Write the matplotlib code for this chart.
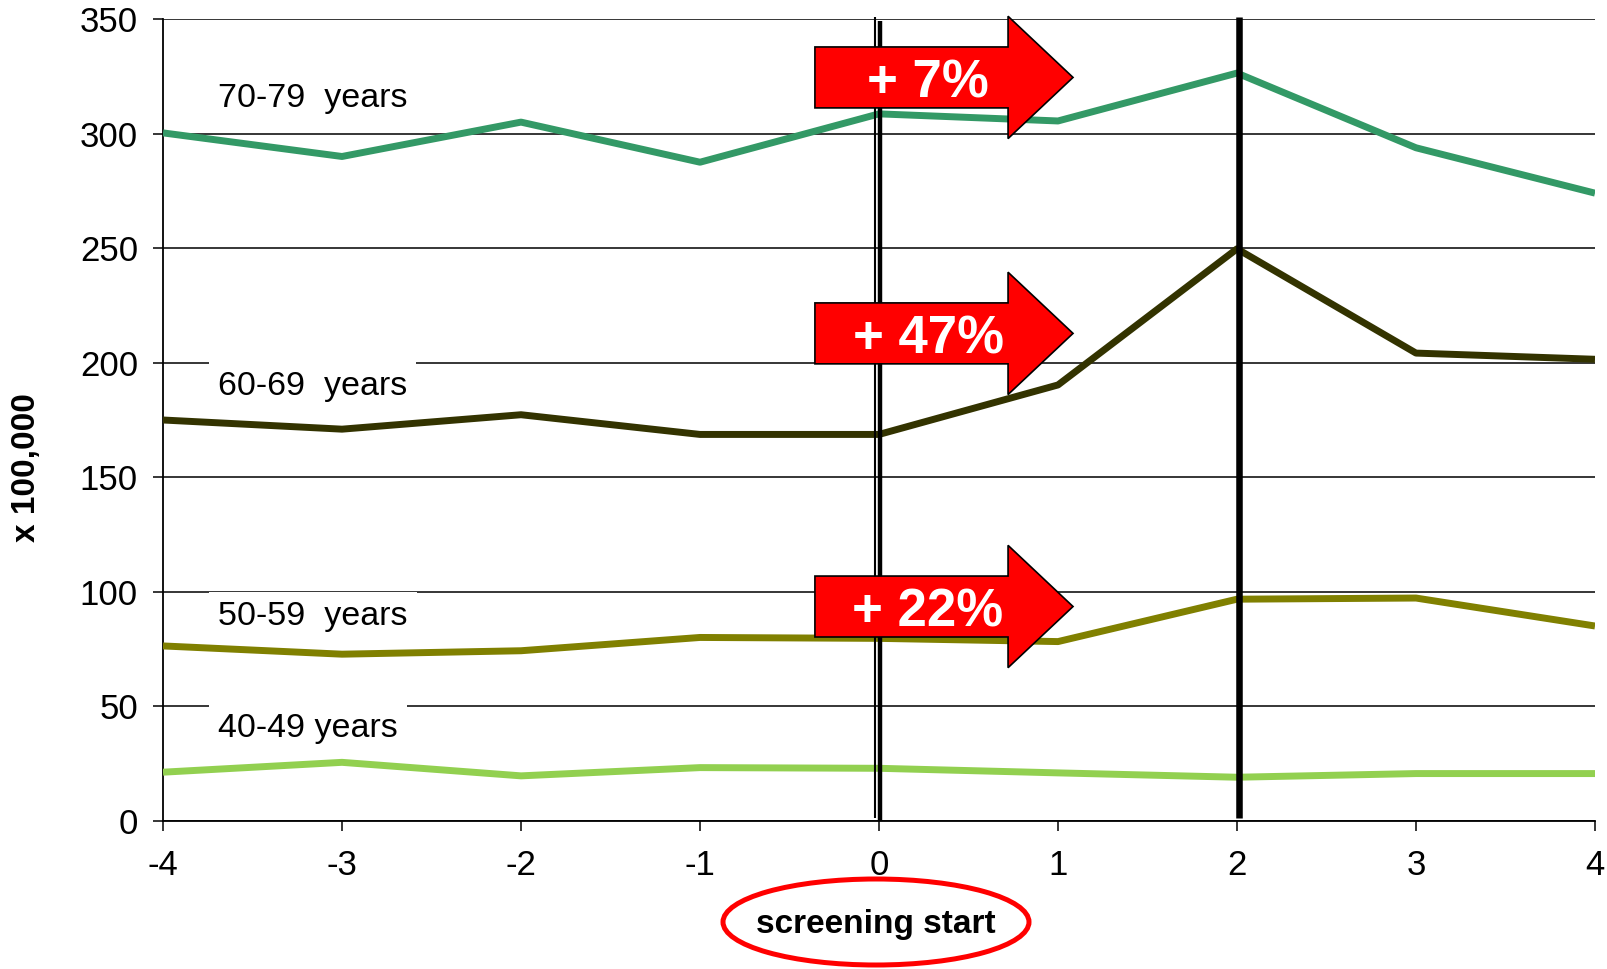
import matplotlib
matplotlib.use('Agg')
import matplotlib.pyplot as plt
from matplotlib.patches import Polygon, Ellipse

plt.rcParams['font.family'] = ['Liberation Sans', 'DejaVu Sans']
plt.rcParams['axes.unicode_minus'] = False

# ---- data ----
years = [-4, -3, -2, -1, 0, 1, 2, 3, 4]
x_tick_labels = ['-4', '-3', '-2', '-1', '0', '1', '2', '3', '4']
y_ticks = [0, 50, 100, 150, 200, 250, 300, 350]

g70 = [300.3, 290.0, 305.0, 287.5, 308.6, 305.5, 326.4, 293.8, 274.0]
g60 = [175.0, 171.0, 177.3, 168.7, 168.7, 190.3, 249.7, 204.2, 201.5]
g50 = [76.4, 72.8, 74.3, 80.1, 79.7, 78.3, 96.8, 97.3, 85.1]
g40 = [21.3, 25.6, 19.7, 23.3, 23.0, 21.0, 19.1, 20.7, 20.7]

series = [g70, g60, g50, g40]
series_labels = ['70-79  years', '60-69  years', '50-59  years', '40-49 years']
series_colors = ['#339966', '#333300', '#808000', '#92D050']
label_y = [311.6, 185.9, 85.6, 36.7]

arrow_labels = ['+ 7%', '+ 47%', '+ 22%']
arrow_y = [324.5, 212.8, 93.6]

# ---- figure ----
W, H = 1608, 969
fig = plt.figure(figsize=(W / 100, H / 100), dpi=100)
ax = fig.add_axes([163 / W, 1 - 821 / H, (1595 - 163) / W, (821 - 19) / H])
ax.set_xlim(-4, 4)
ax.set_ylim(0, 350)
ax.set_xticks(years)
ax.set_xticklabels(x_tick_labels)
ax.set_yticks(y_ticks)
ax.grid(axis='y', color='black', lw=1.1, zorder=1)
ax.grid(axis='x', visible=False)
ax.set_axisbelow(True)
for s in ['top', 'right']:
    ax.spines[s].set_visible(False)
for s in ['left', 'bottom']:
    ax.spines[s].set_linewidth(1.3)
    ax.spines[s].set_color('black')
ax.tick_params(axis='both', direction='out', length=7, width=1.1, labelsize=25, colors='black')
ax.tick_params(axis='x', pad=13)
ax.tick_params(axis='y', pad=11)

# vertical markers
ax.plot([-0.022, -0.022], [1.3, 351], color='black', lw=1.5, clip_on=False, zorder=5, solid_capstyle='butt')
ax.plot([0.006, 0.006], [0, 349.2], color='black', lw=3.2, clip_on=False, zorder=5, solid_capstyle='butt')
ax.plot([2.01, 2.01], [1.3, 351], color='black', lw=4.7, clip_on=False, zorder=5, solid_capstyle='butt')

# series
for vals, col in zip(series, series_colors):
    ax.plot(years, vals, color=col, lw=5.0, zorder=4, solid_capstyle='butt')

# series labels (white boxes break the gridlines, as in the reference)
for lab, yy in zip(series_labels, label_y):
    ax.text(-3.693, yy, lab, fontsize=24.5, color='black', ha='left', va='baseline', zorder=3,
            bbox=dict(facecolor='white', edgecolor='none', pad=6.5))

# arrows
xl, xb, xt = -0.358, 0.721, 1.084
bh, hh = 13.3, 26.7
for lab, yc in zip(arrow_labels, arrow_y):
    verts = [(xl, yc - bh), (xb, yc - bh), (xb, yc - hh), (xt, yc),
             (xb, yc + hh), (xb, yc + bh), (xl, yc + bh)]
    poly = Polygon(verts, closed=True, facecolor='#FF0000', edgecolor='black', lw=1.2,
                   zorder=6, clip_on=False, joinstyle='miter')
    ax.add_patch(poly)
    ax.text(0.274, yc - 2.5, lab, fontsize=38, fontweight='bold', color='white',
            ha='center', va='center', zorder=7)

# y label
fig.text(27 / W, 1 - 468 / H, 'x 100,000', rotation=90, fontsize=24, fontweight='bold',
         ha='center', va='center')

# screening start ellipse
ell = Ellipse((876 / W, 1 - 922 / H), 306 / W, 86 / H, transform=fig.transFigure,
              facecolor='none', edgecolor='#FF0000', lw=3.6)
fig.add_artist(ell)
fig.text(876 / W, 1 - 924 / H, 'screening start', fontsize=24, fontweight='bold',
         ha='center', va='center')

fig.savefig('out.png', dpi=100)
